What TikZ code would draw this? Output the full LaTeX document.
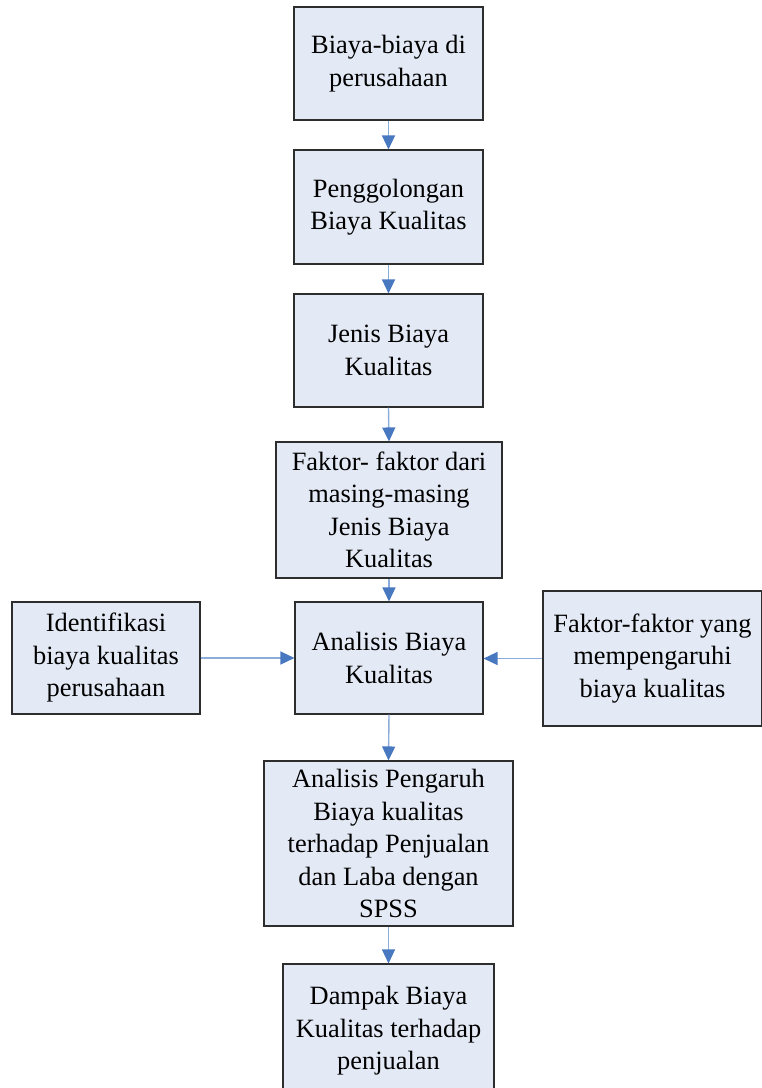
\documentclass[tikz,border=0pt]{standalone}
\usepackage{fontspec}
\setmainfont{Liberation Serif}
\usetikzlibrary{arrows.meta}
\definecolor{boxfill}{RGB}{228,234,245}
\definecolor{boxline}{RGB}{45,45,45}
\definecolor{conline}{RGB}{140,172,218}
\definecolor{contip}{RGB}{72,120,192}
\tikzset{
  box/.style={draw=boxline, fill=boxfill, line width=1.1pt, inner sep=0pt, align=center,
    font=\fontsize{26.4pt}{32.5pt}\selectfont, anchor=center},
  conn/.style={draw=conline, line width=1.4pt, -{Triangle[length=14pt,width=13pt,color=contip]}}
}
\begin{document}
\begin{tikzpicture}[x=1pt,y=-1pt]
\useasboundingbox (0,0) rectangle (762,1088);
\node[box, minimum width=189pt, minimum height=113pt] (b1) at (388.5,63.5) {Biaya-biaya di\\perusahaan};
\node[box, minimum width=189pt, minimum height=114pt] (b2) at (388.5,207) {Penggolongan\\Biaya Kualitas};
\node[box, minimum width=189pt, minimum height=113pt] (b3) at (388.5,350.5) {Jenis Biaya\\Kualitas};
\node[box, minimum width=226pt, minimum height=136pt] (b4) at (389,510) {Faktor- faktor dari\\masing-masing\\Jenis Biaya\\Kualitas};
\node[box, minimum width=188pt, minimum height=112pt] (b5) at (389,658) {Analisis Biaya\\Kualitas};
\node[box, minimum width=188pt, minimum height=112pt] (bl) at (106,658) {Identifikasi\\biaya kualitas\\perusahaan};
\node[box, minimum width=219pt, minimum height=135pt] (br) at (652.5,658.5) {Faktor-faktor yang\\mempengaruhi\\biaya kualitas};
\node[box, minimum width=249pt, minimum height=165pt] (b6) at (388.5,843.5) {Analisis Pengaruh\\Biaya kualitas\\terhadap Penjualan\\dan Laba dengan\\SPSS};
\node[box, minimum width=211pt, minimum height=134pt] (b7) at (388.5,1031) {Dampak Biaya\\Kualitas terhadap\\penjualan};
\draw[conn] (b1.south) -- (b2.north);
\draw[conn] (b2.south) -- (b3.north);
\draw[conn] (b3.south) -- (b4.north);
\draw[conn] (b4.south) -- (b5.north);
\draw[conn] (bl.east) -- (b5.west);
\draw[conn] (br.west) -- (b5.east |- br.west);
\draw[conn] (b5.south) -- (b6.north);
\draw[conn] (b6.south) -- (b7.north);
\end{tikzpicture}
\end{document}
